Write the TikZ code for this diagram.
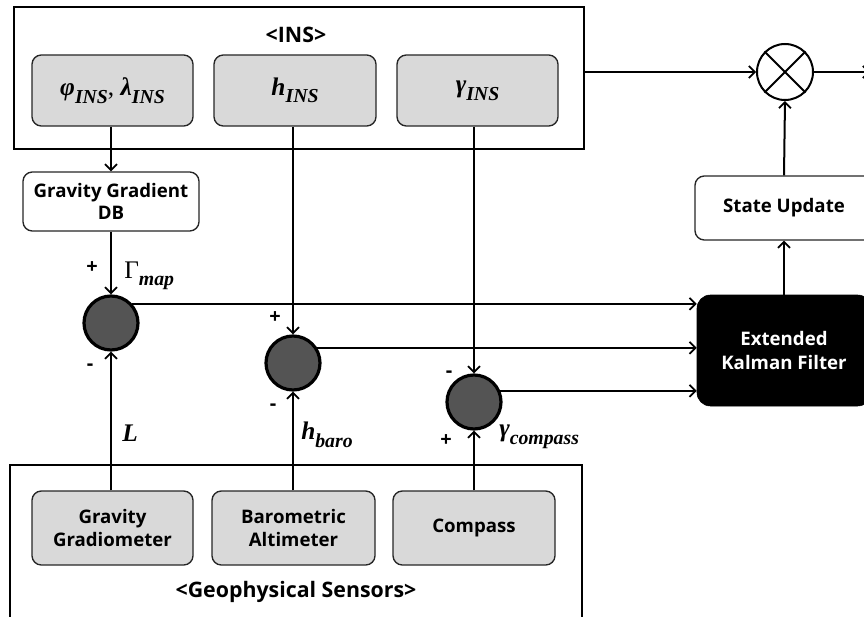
\documentclass[tikz,border=0pt]{standalone}
\usepackage{fontspec}
\usepackage{graphicx}
\setmainfont{Open Sans}[BoldFont={Open Sans Bold}]
\newfontfamily\mserif{Liberation Serif}
\newcommand\msubs[1]{\raisebox{-0.3em}{\scalebox{0.78}{#1}}}
\newcommand\mvar[2]{{\mserif\bfseries\itshape #1\msubs{#2}}}
\usetikzlibrary{arrows.meta}
\begin{document}
\begin{tikzpicture}[x=0.75pt,y=-0.75pt,
  line/.style={line width=1.5pt},
  arr/.style={line width=1.5pt,-{Straight Barb[length=4.5pt,width=9pt,line width=1.3pt]}},
  graybox/.style={draw=black!85,line width=1pt,fill=black!15,rounded corners=7pt,inner sep=0pt,
    minimum height={71*0.75pt},align=center,font=\fontsize{14}{17}\selectfont\bfseries},
  whitebox/.style={draw=black!85,line width=1pt,fill=white,rounded corners=7pt,inner sep=0pt,
    align=center,font=\fontsize{14}{17}\selectfont\bfseries},
  sumnode/.style={circle,draw=black,line width=2.4pt,fill=black!67,minimum size={54*0.75pt},inner sep=0pt},
  sign/.style={font=\fontsize{15}{15}\selectfont\bfseries,inner sep=0pt},
  mlabel/.style={font=\fontsize{19}{21}\selectfont,inner sep=0pt,anchor=west},
  boxmath/.style={font=\fontsize{19}{21}\selectfont},
  title/.style={font=\fontsize{16}{18}\selectfont\bfseries,inner sep=0pt}
]
\useasboundingbox (0,0) rectangle (864,617);

% INS block
\node[draw=black,line width=1.6pt,minimum width={570*0.75pt},minimum height={142*0.75pt},inner sep=0pt] (ins) at (299,78) {};
\node[title] (institle) at (296,35) {<INS>};
\node[graybox,boxmath,minimum width={161*0.75pt}] (phi) at (112.5,90.5) {\mvar{φ}{INS}{\mserif, }\mvar{λ}{INS}};
\node[graybox,boxmath,minimum width={162*0.75pt}] (hins) at (295,90.5) {\mvar{h}{INS}};
\node[graybox,boxmath,minimum width={161*0.75pt}] (gins) at (477.5,90.5) {\mvar{γ}{INS}};

% Gravity gradient DB
\node[whitebox,minimum width={176*0.75pt},minimum height={59*0.75pt}] (db) at (111,201.5) {Gravity Gradient\\DB};

% summing junctions
\node[sumnode] (c1) at (111,323) {};
\node[sumnode] (c2) at (293,363) {};
\node[sumnode] (c3) at (474,402) {};

% Geophysical sensors block
\draw[line width=1.6pt] (10,640) -- (10,465) -- (582,465) -- (582,640);
\node[title] (geotitle) at (296,592) {<Geophysical Sensors>};
\node[graybox,minimum width={161*0.75pt},minimum height={74*0.75pt}] (gg) at (112.5,528) {Gravity\\Gradiometer};
\node[graybox,minimum width={163*0.75pt},minimum height={74*0.75pt}] (baro) at (293.5,528) {Barometric\\Altimeter};
\node[graybox,minimum width={162*0.75pt},minimum height={74*0.75pt}] (comp) at (474,528) {Compass};

% right part
\node[circle,draw=black,line width=1.5pt,fill=white,minimum size={56*0.75pt},inner sep=0pt] (mult) at (785,72) {};
\draw[line width=1.5pt] (mult.45) -- (mult.225) (mult.135) -- (mult.315);
\node[whitebox,minimum width={178*0.75pt},minimum height={64*0.75pt}] (su) at (784,208) {State Update};
\node[draw=black,fill=black,rounded corners=10pt,minimum width={174*0.75pt},minimum height={111*0.75pt},
  text=white,align=center,font=\fontsize{14}{18}\selectfont\bfseries,inner sep=0pt] (ekf) at (784,350.5) {Extended\\Kalman Filter};
\coordinate (out) at (870,72);

% connectors top
\draw[arr] (phi.south -| db) -- (db.north);
\draw[arr] (db.south) -- (c1.north);
\draw[arr] (hins.south -| c2) -- (c2.north);
\draw[arr] (gins.south -| c3) -- (c3.north);

% connectors bottom
\draw[arr] (gg.north -| c1) -- (c1.south);
\draw[arr] (baro.north -| c2) -- (c2.south);
\draw[arr] (comp.north -| c3) -- (c3.south);

% to EKF
\draw[arr] (c1.42) -- (c1.42 -| ekf.west);
\draw[arr] (c2.32) -- (c2.32 -| ekf.west);
\draw[arr] (c3.23) -- (c3.23 -| ekf.west);

% right connectors
\draw[arr] (ekf.north) -- (su.south);
\draw[arr] (su.north) -- (mult.south);
\draw[arr] (mult.west -| ins.east) -- (mult.west);
\draw[arr] (mult.east) -- (out);

% signs and labels
\node[sign] (p1) at (92,268) {+};
\node[mlabel] (lmap) at (124,276) {{\mserif Γ\msubs{\bfseries\itshape map}}};
\node[sign] (m1) at (90,367) {-};
\node[mlabel] (lL) at (122,437) {\mvar{L}{}};
\node[sign] (p2) at (275,318) {+};
\node[sign] (m2) at (273,407) {-};
\node[mlabel] (lbaro) at (301,435) {\mvar{h}{baro}};
\node[sign] (m3) at (449,374) {-};
\node[sign] (p3) at (446,441) {+};
\node[mlabel] (lcomp) at (499,437) {\mvar{γ}{compass}};
\end{tikzpicture}
\end{document}
